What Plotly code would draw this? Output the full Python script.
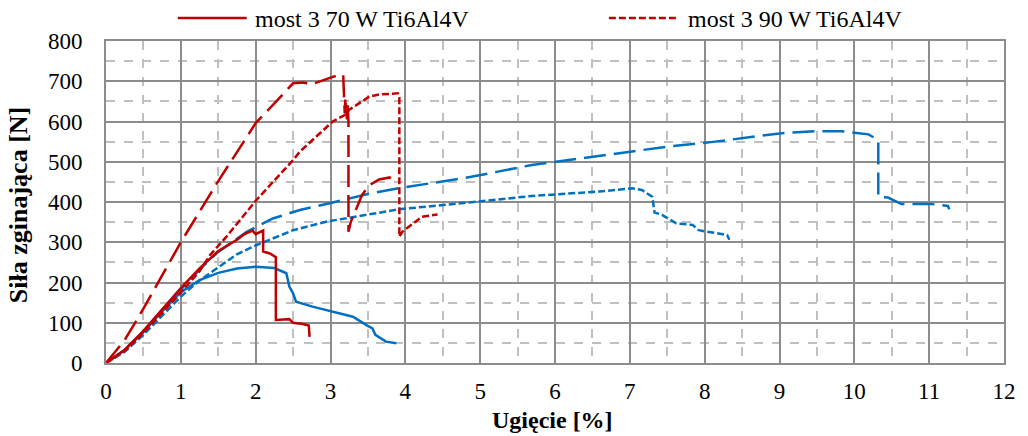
import plotly.graph_objects as go

# Bending tests of Ti6Al4V bridge samples: deflection [%] vs. bending force [N]

# most 3, 70 W (solid red)
r70_x = [0, 0.25, 0.5, 0.75, 1.0, 1.25, 1.5, 1.75, 1.85, 1.96, 2.0, 2.1, 2.1, 2.19, 2.27, 2.27,
         2.45, 2.5, 2.63, 2.71, 2.72]
r70_y = [0, 33, 80, 133, 186, 235, 278, 306, 320, 329, 320, 329, 277, 272, 263, 107,
         109, 100, 97, 93, 65]

# most 3, 90 W (short-dash red)
r90_x = [0, 0.25, 0.5, 0.75, 1.0, 1.25, 1.39, 1.61, 2.01, 2.5, 2.59, 3.03, 3.19, 3.25, 3.52,
         3.65, 3.9, 3.92, 3.92, 3.96, 4.22, 4.43]
r90_y = [0, 30, 75, 125, 175, 228, 268, 314, 405, 504, 525, 600, 616, 629, 662,
         667, 670, 660, 314, 326, 363, 369]

# third red sample (long-dash red)
r3_x = [0, 0.25, 0.5, 0.75, 1.0, 1.5, 2.0, 2.25, 2.41, 2.5, 2.63, 2.76, 3.03, 3.14, 3.17,
        3.18, 3.19, 3.2, 3.22, 3.23, 3.24, 3.24, 3.27, 3.42, 3.52, 3.65, 3.79, 3.84]
r3_y = [0, 57, 135, 218, 300, 452, 596, 645, 678, 695, 697, 693, 711, 717, 715,
        650, 620, 660, 605, 640, 600, 326, 350, 417, 442, 456, 461, 450]

# blue samples
b1_x = [0, 0.25, 0.5, 0.75, 1.0, 1.25, 1.5, 1.75, 2.0, 2.25, 2.41, 2.45, 2.5, 2.54, 2.76,
        3.03, 3.3, 3.48, 3.56, 3.6, 3.74, 3.88]
b1_y = [0, 32, 77, 128, 176, 206, 224, 235, 239, 236, 223, 190, 173, 152, 140,
        127, 115, 94, 86, 70, 53, 49]

b2_x = [0, 0.25, 0.5, 0.75, 1.0, 1.25, 1.5, 1.75, 1.88, 2.23, 2.59, 2.99, 3.5, 4.0, 4.81,
        5.69, 6.59, 7.48, 8.14, 9.03, 9.48, 9.83, 10.19, 10.32, 10.32, 10.45, 10.63, 11.03,
        11.25, 11.27]
b2_y = [0, 32, 78, 132, 182, 232, 276, 310, 326, 359, 380, 397, 420, 437, 460,
        492, 514, 537, 550, 571, 576, 576, 568, 554, 413, 411, 395, 395,
        390, 382]

b3_x = [0, 0.25, 0.5, 0.75, 1.0, 1.25, 1.5, 1.75, 2.0, 2.5, 2.94, 3.3, 3.92, 4.81, 5.69,
        6.59, 7.03, 7.16, 7.3, 7.33, 7.43, 7.62, 7.84, 7.92, 8.19, 8.3, 8.33]
b3_y = [0, 28, 70, 118, 165, 205, 238, 270, 292, 330, 351, 363, 382, 398, 415,
        426, 434, 430, 413, 374, 368, 347, 343, 330, 322, 318, 306]

legend_labels = ["most 3 70 W Ti6Al4V", "most 3 90 W Ti6Al4V"]

RED = "#C00000"
BLUE = "#0070C0"
LONG = "22px,8px"
SHORT = "7px,3px"
FONT = "Liberation Serif, Times New Roman, serif"

series = [
    (b1_x, b1_y, BLUE, "solid"),
    (b2_x, b2_y, BLUE, LONG),
    (b3_x, b3_y, BLUE, SHORT),
    (r3_x, r3_y, RED, LONG),
    (r90_x, r90_y, RED, SHORT),
    (r70_x, r70_y, RED, "solid"),
]

fig = go.Figure()
for xs, ys, col, dash in series:
    fig.add_trace(go.Scatter(x=xs, y=ys, mode="lines", showlegend=False,
                             line=dict(color=col, width=2.5, dash=dash)))

axis_common = dict(
    showgrid=True, gridcolor="#8c8c8c", gridwidth=2,
    showline=True, linecolor="#8c8c8c", linewidth=2, mirror=True,
    zeroline=False, ticks="",
    tickfont=dict(family=FONT, size=23, color="black"),
)
fig.update_xaxes(range=[0, 12], dtick=1, tick0=0,
                 minor=dict(dtick=0.5, showgrid=True, gridcolor="#c0c0c0",
                            griddash="dash", gridwidth=1.5),
                 ticklabelstandoff=6, **axis_common)
fig.update_yaxes(range=[0, 800], dtick=100, tick0=0,
                 minor=dict(dtick=50, showgrid=True, gridcolor="#c0c0c0",
                            griddash="dash", gridwidth=1.5),
                 ticklabelstandoff=17, **axis_common)

# legend drawn along the top edge
W, H = 900.0, 322.0
def px_x(p):
    return (p - 106) / W
def px_y(p):
    return (363 - p) / H

legend_items = [(178, 247, 253, "solid", legend_labels[0]),
                (610, 680, 687, SHORT, legend_labels[1])]
for x0, x1, xt, dash, label in legend_items:
    fig.add_shape(type="line", xref="paper", yref="paper",
                  x0=px_x(x0), x1=px_x(x1), y0=px_y(18), y1=px_y(18),
                  line=dict(color=RED, width=2.5, dash=dash))
    fig.add_annotation(xref="paper", yref="paper", x=px_x(xt), y=px_y(19),
                       xanchor="left", yanchor="middle", showarrow=False,
                       text=label, font=dict(family=FONT, size=24, color="black"))

fig.add_annotation(xref="paper", yref="paper", x=px_x(553), y=px_y(420),
                   xanchor="center", yanchor="middle", showarrow=False,
                   text="<b>Ugięcie [%]</b>",
                   font=dict(family=FONT, size=24, color="black"))
fig.add_annotation(xref="paper", yref="paper", x=px_x(18), y=px_y(205),
                   xanchor="center", yanchor="middle", showarrow=False, textangle=-90,
                   text="<b>Siła zginająca [N]</b>",
                   font=dict(family=FONT, size=26, color="black"))

fig.update_layout(
    width=1028, height=436,
    margin=dict(l=106, r=22, t=41, b=73),
    paper_bgcolor="white", plot_bgcolor="white",
    showlegend=False,
)

fig.write_html("out.html")
